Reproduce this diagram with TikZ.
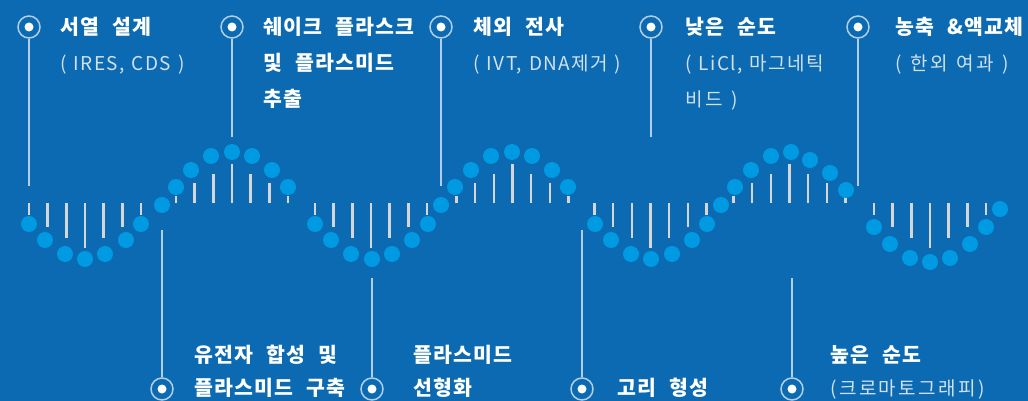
\documentclass[tikz,border=0pt]{standalone}
\usepackage{fontspec}
\newfontfamily\krt[LetterSpace=6,WordSpace=2.2]{Noto Sans CJK KR}
\newfontfamily\krs[LetterSpace=7,WordSpace=1.3]{Noto Sans CJK KR}
\newfontfamily\krk[LetterSpace=13,WordSpace=1.3]{Noto Sans CJK KR}
\definecolor{bgc}{HTML}{0B6AB1}
\definecolor{dotc}{HTML}{009AE2}
\definecolor{barc}{HTML}{D4D6D8}
\definecolor{linec}{HTML}{B2CFEA}
\definecolor{subc}{HTML}{D2E1F0}
\tikzset{
  ttl/.style={anchor=base west, inner sep=0pt, text=white, font=\krt\bfseries\fontsize{20.5}{22}\selectfont},
  subt/.style={anchor=base west, inner sep=0pt, text=subc, font=\krs\fontsize{19}{22}\selectfont},
  subk/.style={anchor=base west, inner sep=0pt, text=subc, font=\krk\fontsize{19}{22}\selectfont},
  marker/.style={circle, draw=linec, line width=1.5pt, minimum size=22pt, inner sep=0pt},
  mdot/.style={circle, fill=white, minimum size=9pt, inner sep=0pt},
  callout/.style={draw=linec, line width=1.5pt},
  barline/.style={draw=barc, line width=2.4pt},
  wdot/.style={fill=dotc}
}
\begin{document}
\begin{tikzpicture}[x=1pt,y=-1pt]
\fill[bgc] (0,0) rectangle (1028,401);
\useasboundingbox (0,0) rectangle (1028,401);
% bars
\foreach \c in {232,512.5,789.5}
  \foreach \k/\l in {-3/7,-2/20,-1/29,0/39,1/29,2/20,3/7}
    \draw[barline] (\c+\k*18.67,203) -- ++(0,-\l);
\foreach \c in {85,371,650.5,930}
  \foreach \k/\l in {-3/12,-2/24,-1/35,0/45,1/35,2/24,3/12}
    \draw[barline] (\c+\k*18.67,203) -- ++(0,\l);
% dots
\foreach \p in {(29,224),(45,240),(65,254),(85,259),(105,254),(126,240),(141,224),(162,205),(176,187),(191,170),(211,156),(232,152),(252,156),(272,170),(288,187),(315,224),(331,240),(351,254),(372,259),(392,254),(412,240),(428,224),(441,205),(455,187),(471,170),(491,156),(512,152),(532,156),(552,170),(568,187),(595,224),(611,240),(631,254),(651,259),(672,254),(692,240),(707,224),(721,205),(735,187),(751,170),(771,156),(791,152),(810,160),(830,173),(846,190),(874,227),(890,244),(910,258),(930,262),(950,258),(970,244),(986,227),(1000,209)}
  \fill[wdot] \p circle (8);
% top callouts
\foreach \n/\x/\e in {t1/29/186,t2/232/137,t3/441/186,t4/651/137,t5/858/186}{
  \node[marker] (\n) at (\x,27) {};
  \node[mdot] (\n d) at (\x,27) {};
  \coordinate (\n e) at (\x,\e);
  \draw[callout] (\n) -- (\n e);
}
% bottom callouts
\foreach \n/\x/\e in {b1/162/230,b2/372/278,b3/582/230,b4/792/278}{
  \node[marker] (\n) at (\x,389) {};
  \node[mdot] (\n d) at (\x,389) {};
  \coordinate (\n e) at (\x,\e);
  \draw[callout] (\n e) -- (\n);
}
% top labels
\node[ttl] (l1a) at (60,35) {서열 설계};
\node[subt] (l1b) at (60,71) {( IRES, CDS )};
\node[ttl] (l2a) at (263,35) {쉐이크 플라스크};
\node[ttl] (l2b) at (263,71) {및 플라스미드};
\node[ttl] (l2c) at (263,107) {추출};
\node[ttl] (l3a) at (473,35) {체외 전사};
\node[subt] (l3b) at (473,71) {( IVT, DNA제거 )};
\node[ttl] (l4a) at (685,35) {낮은 순도};
\node[subt] (l4b) at (685,71) {( LiCl, 마그네틱};
\node[subk] (l4c) at (685,107) {비드 )};
\node[ttl] (l5a) at (895,35) {농축 \&액교체};
\node[subk] (l5b) at (895,71) {( 한외 여과 )};
% bottom labels
\node[ttl] (m1a) at (194,362) {유전자 합성 및};
\node[ttl] (m1b) at (194,395) {플라스미드 구축};
\node[ttl] (m2a) at (413,362) {플라스미드};
\node[ttl] (m2b) at (413,395) {선형화};
\node[ttl] (m3a) at (617,395) {고리 형성};
\node[ttl] (m4a) at (830,362) {높은 순도};
\node[subk] (m4b) at (830,395) {(크로마토그래피)};
\end{tikzpicture}
\end{document}
